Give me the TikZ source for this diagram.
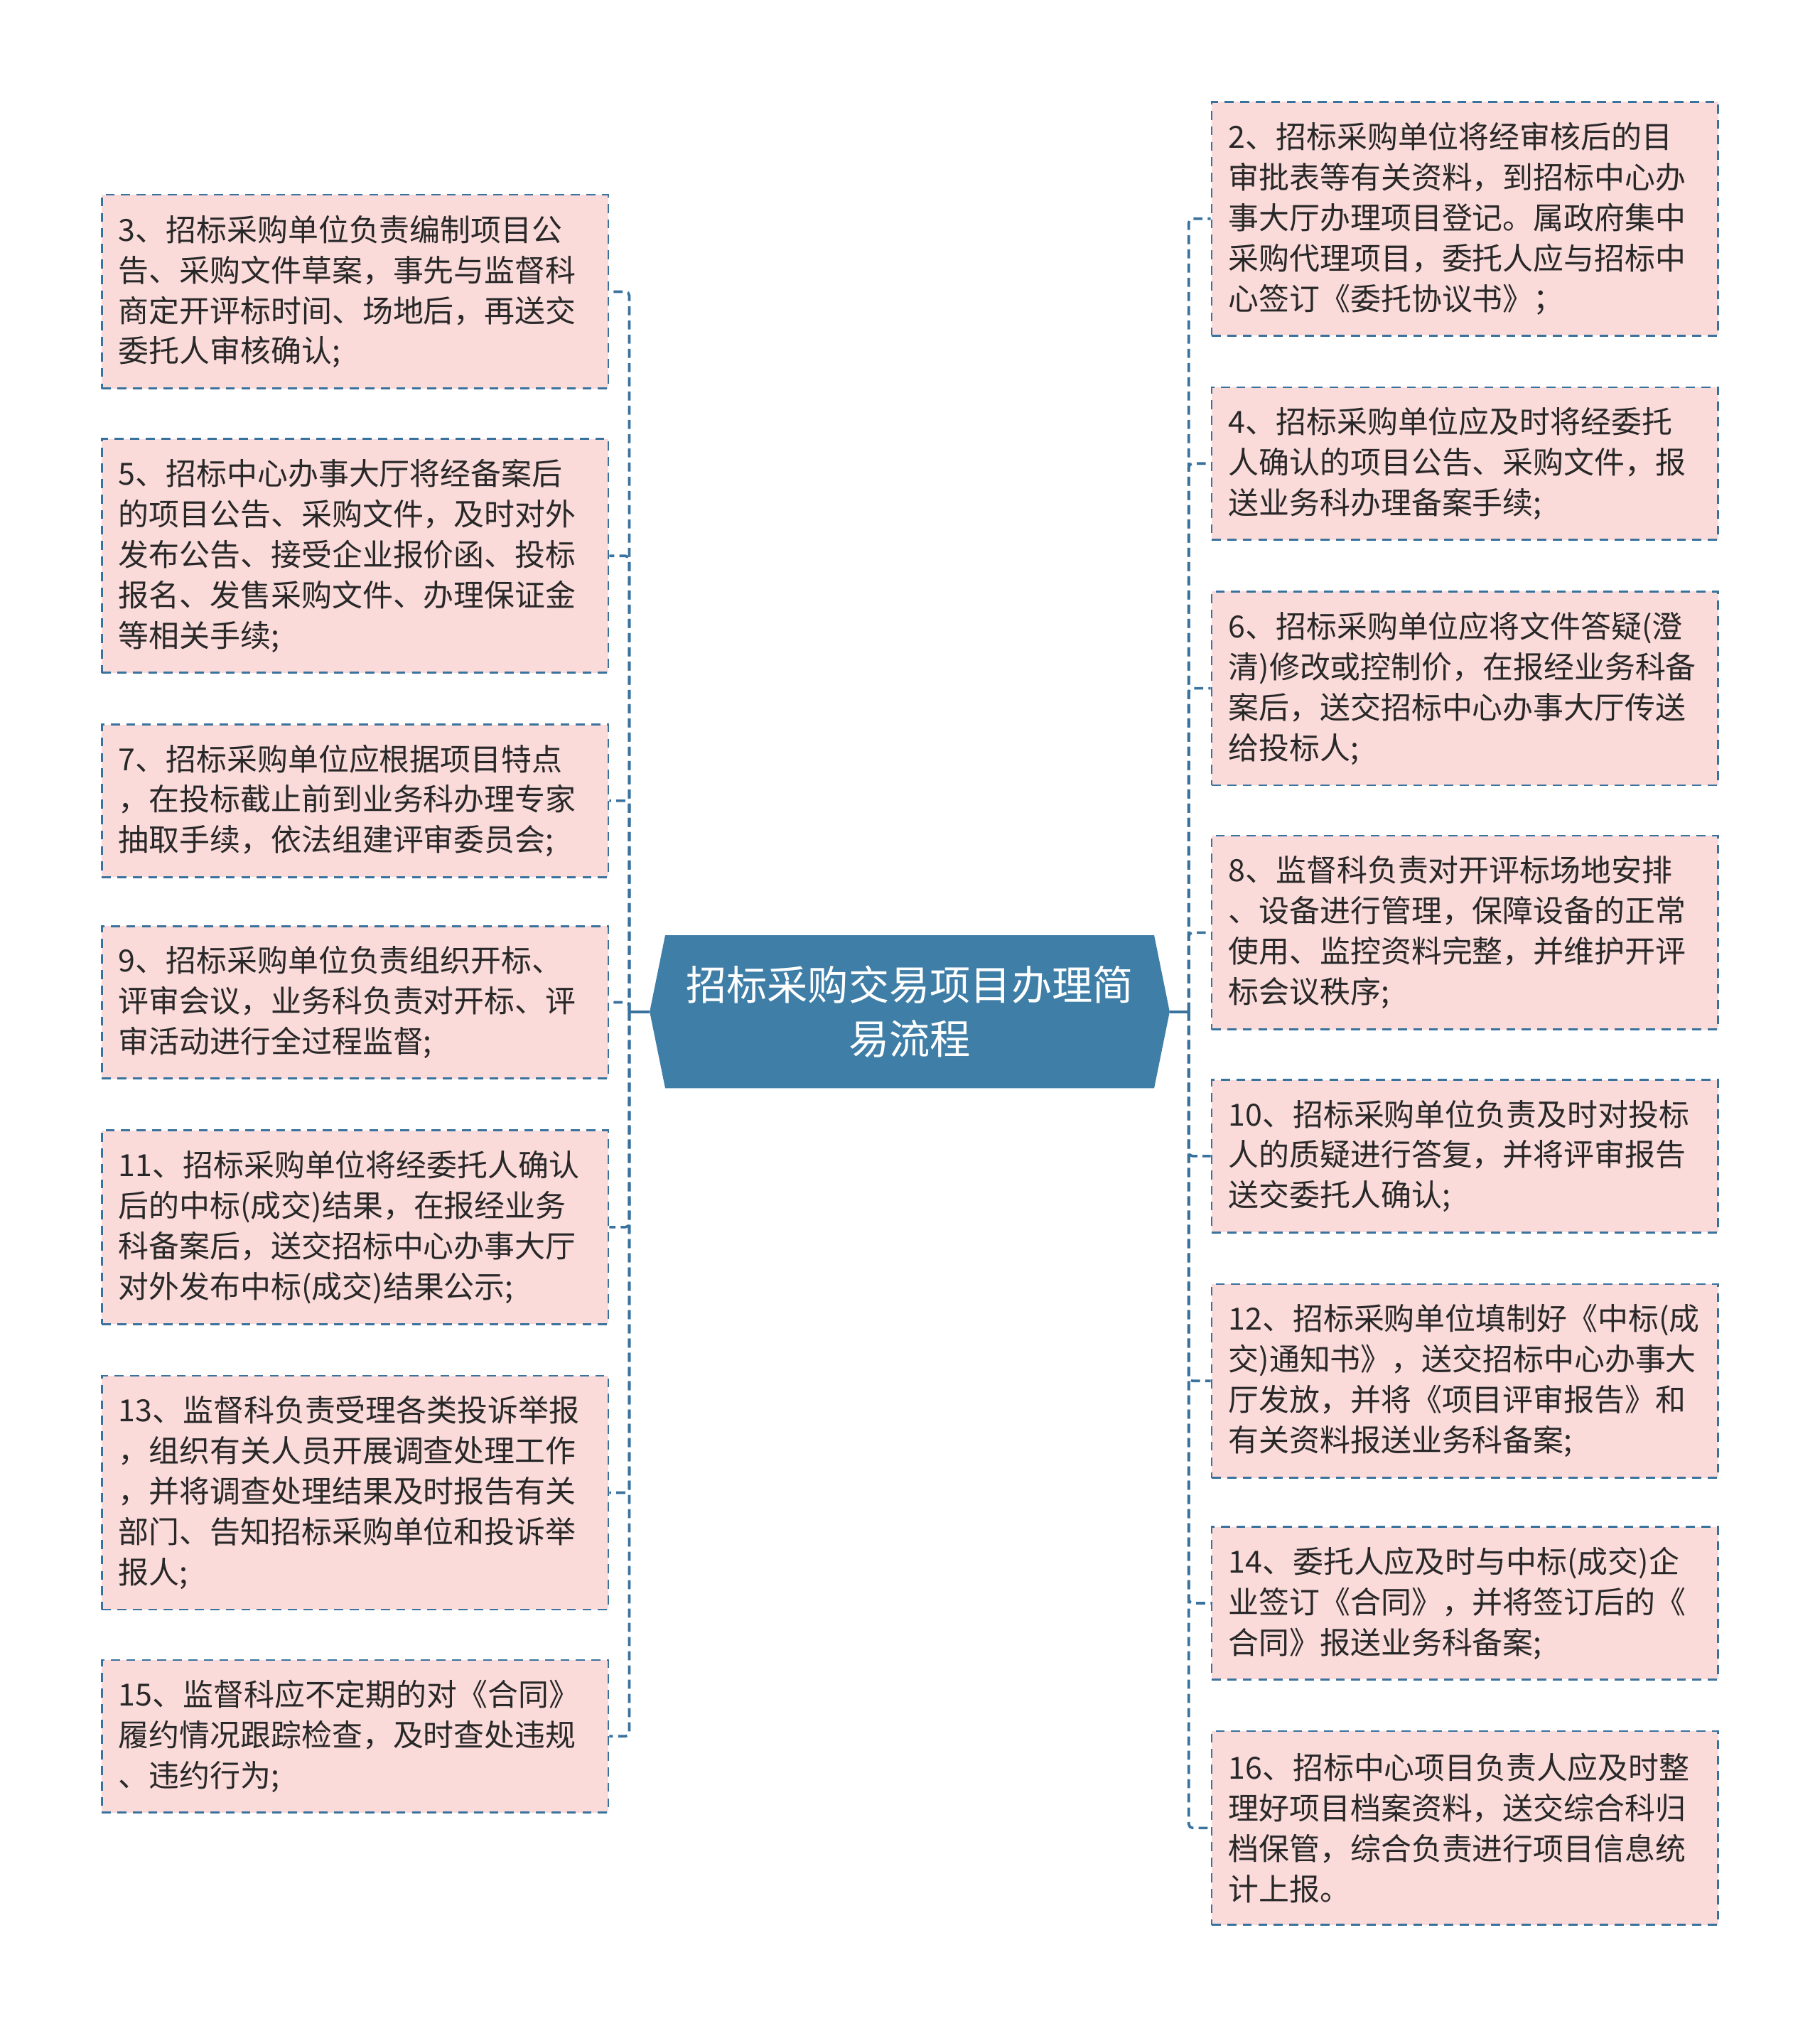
\documentclass[tikz,border=0pt]{standalone}
\usepackage{fontspec}
\setmainfont{Noto Sans CJK SC}
\usetikzlibrary{backgrounds}
\definecolor{boxfill}{RGB}{251,218,218}
\definecolor{edgeblue}{RGB}{58,114,158}
\definecolor{mainblue}{RGB}{63,126,166}
\definecolor{txt}{RGB}{40,40,40}
\begin{document}
\begin{tikzpicture}[x=1pt,y=-1pt,
  item/.style={draw=edgeblue, line width=1.5pt, dash pattern=on 7pt off 5pt,
    fill=boxfill, anchor=north west, minimum width=392pt, text width=366pt,
    inner xsep=13pt, inner ysep=0pt, align=left, text=txt,
    font=\fontsize{23.6}{31.3}\selectfont},
  three/.style={minimum height=118pt},
  four/.style={minimum height=150pt},
  five/.style={minimum height=181pt},
  link/.style={draw=edgeblue, line width=2pt, dash pattern=on 7pt off 4pt, rounded corners=3pt},
  stub/.style={draw=edgeblue, line width=2pt}]
\useasboundingbox (0,0) rectangle (1408,1568);

% centre
\node[font=\fontsize{31.5}{42}\selectfont, text=white, align=center,
  minimum width=402pt, minimum height=118pt, inner sep=0pt] (c) at (704,783)
  {招标采购交易项目办理简\\易流程};
\begin{scope}[on background layer]
\fill[mainblue] ([xshift=12pt]c.north west) -- ([xshift=-12pt]c.north east) -- (c.east)
  -- ([xshift=-12pt]c.south east) -- ([xshift=12pt]c.south west) -- (c.west) -- cycle;
\end{scope}

% left column
\node[item,four] (b3) at (78,150) {3、招标采购单位负责编制项目公\\告、采购文件草案，事先与监督科\\商定开评标时间、场地后，再送交\\委托人审核确认;};
\node[item,five] (b5) at (78,339) {5、招标中心办事大厅将经备案后\\的项目公告、采购文件，及时对外\\发布公告、接受企业报价函、投标\\报名、发售采购文件、办理保证金\\等相关手续;};
\node[item,three] (b7) at (78,560) {7、招标采购单位应根据项目特点\\，在投标截止前到业务科办理专家\\抽取手续，依法组建评审委员会;};
\node[item,three] (b9) at (78,716) {9、招标采购单位负责组织开标、\\评审会议，业务科负责对开标、评\\审活动进行全过程监督;};
\node[item,four] (b11) at (78,874) {11、招标采购单位将经委托人确认\\后的中标(成交)结果，在报经业务\\科备案后，送交招标中心办事大厅\\对外发布中标(成交)结果公示;};
\node[item,five] (b13) at (78,1064) {13、监督科负责受理各类投诉举报\\，组织有关人员开展调查处理工作\\，并将调查处理结果及时报告有关\\部门、告知招标采购单位和投诉举\\报人;};
\node[item,three] (b15) at (78,1284) {15、监督科应不定期的对《合同》\\履约情况跟踪检查，及时查处违规\\、违约行为;};

% right column
\node[item,five] (b2) at (937,78) {2、招标采购单位将经审核后的目\\审批表等有关资料，到招标中心办\\事大厅办理项目登记。属政府集中\\采购代理项目，委托人应与招标中\\心签订《委托协议书》；};
\node[item,three] (b4) at (937,299) {4、招标采购单位应及时将经委托\\人确认的项目公告、采购文件，报\\送业务科办理备案手续;};
\node[item,four] (b6) at (937,457) {6、招标采购单位应将文件答疑(澄\\清)修改或控制价，在报经业务科备\\案后，送交招标中心办事大厅传送\\给投标人;};
\node[item,four] (b8) at (937,646) {8、监督科负责对开评标场地安排\\、设备进行管理，保障设备的正常\\使用、监控资料完整，并维护开评\\标会议秩序;};
\node[item,three] (b10) at (937,835) {10、招标采购单位负责及时对投标\\人的质疑进行答复，并将评审报告\\送交委托人确认;};
\node[item,four] (b12) at (937,993) {12、招标采购单位填制好《中标(成\\交)通知书》，送交招标中心办事大\\厅发放，并将《项目评审报告》和\\有关资料报送业务科备案;};
\node[item,three] (b14) at (937,1181) {14、委托人应及时与中标(成交)企\\业签订《合同》，并将签订后的《\\合同》报送业务科备案;};
\node[item,four] (b16) at (937,1339) {16、招标中心项目负责人应及时整\\理好项目档案资料，送交综合科归\\档保管，综合负责进行项目信息统\\计上报。};

% connectors
\coordinate (tl) at (487,783);
\coordinate (tr) at (920,783);
\draw[stub] (c.west) -- (tl);
\draw[stub] (c.east) -- (tr);
\foreach \b in {b3,b5,b7,b9,b11,b13,b15} \draw[link] (tl) |- (\b.east);
\foreach \b in {b2,b4,b6,b8,b10,b12,b14,b16} \draw[link] (tr) |- (\b.west);
\end{tikzpicture}
\end{document}
